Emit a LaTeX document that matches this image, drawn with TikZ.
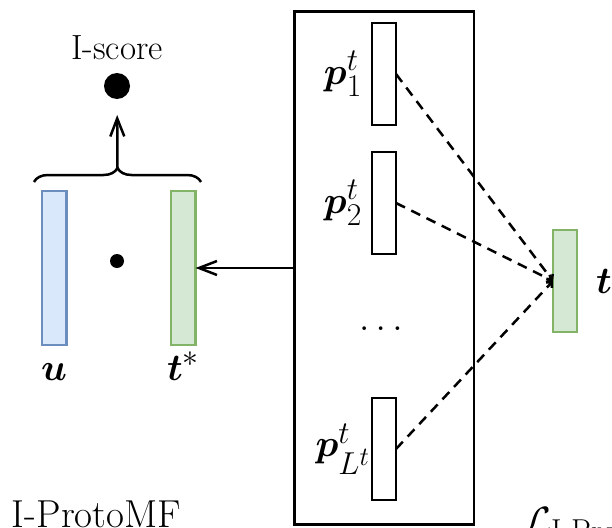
\documentclass[tikz,border=0pt]{standalone}
\usepackage{amsmath}
\usepackage{tikz}
\usetikzlibrary{positioning,calc,arrows.meta,decorations.pathreplacing}

\definecolor{blueFill}{HTML}{DAE8FC}
\definecolor{blueLine}{HTML}{6C8EBF}
\definecolor{greenFill}{HTML}{D5E8D4}
\definecolor{greenLine}{HTML}{82B366}
\newcommand{\symb}[1]{\scalebox{1.527}{\Huge$#1$}}

\begin{document}
\begin{tikzpicture}[x=1pt,y=-1pt,line width=2.5pt,
				every node/.style={inner sep=0pt,outer sep=0pt},
				proto/.style={draw,rectangle,minimum width=24pt,minimum height=102pt},
				emb/.style={draw,rectangle,minimum width=24.5pt,minimum height=154pt},
				blu/.style={draw=blueLine,fill=blueFill},
				grn/.style={draw=greenLine,fill=greenFill},
				txt/.style={font=\fontsize{35}{40}\selectfont},
				big/.style={font=\fontsize{39}{45}\selectfont},
				link/.style={dash pattern=on 10pt off 7pt,-{Straight Barb[length=4pt,width=8pt]}},
				arr/.style={-{Straight Barb[length=18pt,width=14pt]}}]
				\useasboundingbox (0,0) rectangle (612,527);
				\clip (0,0) rectangle (612,527);
				% prototype box
				\node (BOX)   [draw,minimum width=179.5pt,minimum height=513pt] at (384,268) {};
				\node (P1)    [proto] at (384,74)  {};
				\node (P2)    [proto] at (384,203) {};
				\node (PL)    [proto] at (384,449) {};
				\node (P1LAB) at ([xshift=-41pt]P1.center) {\symb{\boldsymbol{p}^t_1}};
				\node (P2LAB) at ([xshift=-41pt]P2.center) {\symb{\boldsymbol{p}^t_2}};
				\node (PLLAB) at ([xshift=-41pt]PL.center) {\symb{\boldsymbol{p}^t_{L^t}}};
				\node (DOTS)  [anchor=base] at (384,330) {\symb{\dots}};
				% item vector
				\node (T)     [proto,grn] at (565,281) {};
				\node (TLAB)  [right=19pt of T] {\symb{\boldsymbol{t}}};
				% score part
				\node (U)     [emb,blu] at (54,268)  {};
				\node (TSTAR) [emb,grn] at (183.3,268) {};
				\node (DOT)   [circle,fill,minimum size=14pt] at (117,261) {};
				\node (SCORE) [circle,fill,minimum size=26pt] at (117,86) {};
				\node (SCORELAB) [txt,above=13pt of SCORE] {I-score};
				\node (ULAB)  [anchor=base] at ([yshift=-35pt]U.south) {\symb{\boldsymbol{u}}};
				\node (TSLAB) [anchor=base] at ([yshift=-35pt]TSTAR.south) {\symb{\boldsymbol{t}^*}};
				\node (TITLE) [big,anchor=base west] at (12,527) {I-ProtoMF};
				\node (LOSS)  [anchor=base west] at (525,533) {\symb{\mathcal{L}_{\text{I-ProtoMF}}}};
				
				\coordinate (BL) at (34,182);
				\coordinate (BR) at (201,182);
				\coordinate (BTIP) at ($(BL)!0.5!(BR)+(0,-14)$);
				\draw[decorate,decoration={brace,amplitude=14pt}] (BL) -- (BR);
				\draw[arr,shorten >=16pt] (BTIP) -- (SCORE);
				\draw[arr] (BOX.west) -- (TSTAR.east);
				\draw[link] (P1.east) -- (T.west);
				\draw[link] (P2.east) -- (T.west);
				\draw[link] (PL.east) -- (T.west);
			\end{tikzpicture}
\end{document}
